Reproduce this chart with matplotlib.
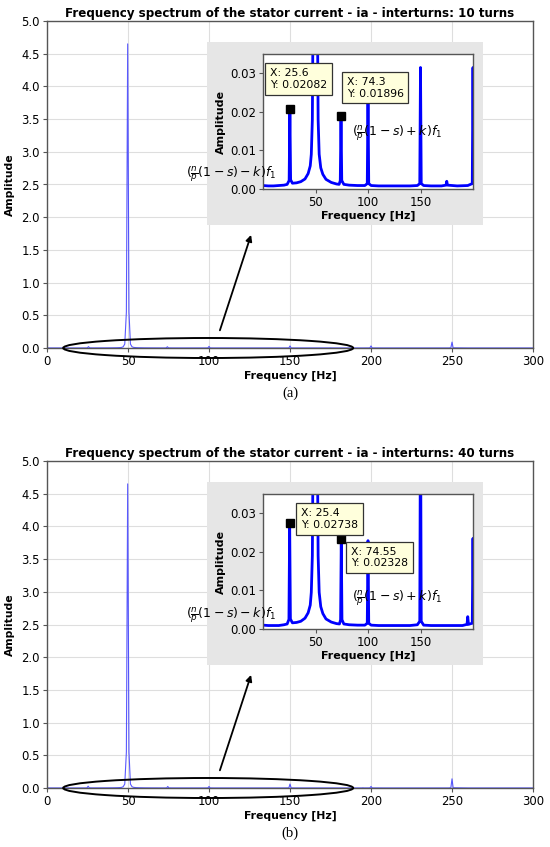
import matplotlib

matplotlib.use("Agg")
import matplotlib.pyplot as plt
from matplotlib.patches import Ellipse

W, H = 550, 847

# spectrum (a): interturns 10 turns
freq_a = [0, 5, 10, 15, 20, 23, 24.9, 25.6, 26.3, 28, 32, 36, 40, 43, 45, 46, 47, 48, 49, 49.8,
          50.6, 51.5, 52.5, 53.5, 55, 57, 60, 65, 70, 72.5, 73.6, 74.3, 75.0, 77, 82, 90, 97,
          99.3, 100, 100.7, 103, 110, 120, 130, 140, 147, 149.3, 150, 150.7, 153, 160, 170,
          174.3, 175, 175.7, 185, 195, 199.3, 200, 200.7, 210, 230, 248, 249.3, 250, 250.7,
          260, 280, 300]
amp_a = [0.0009, 0.0008, 0.0008, 0.0009, 0.0010, 0.0012, 0.0022, 0.02082, 0.0024, 0.0015,
         0.0016, 0.0019, 0.0026, 0.0040, 0.0060, 0.0090, 0.018, 0.06, 0.55, 4.65,
         0.55, 0.06, 0.018, 0.009, 0.0055, 0.0038, 0.0025, 0.0017, 0.0013, 0.0012, 0.0022, 0.01896,
         0.0022, 0.0012, 0.0010, 0.0009, 0.0009,
         0.0014, 0.024, 0.0014, 0.0009, 0.0008, 0.0008, 0.0008, 0.0008, 0.0009, 0.0014, 0.0315,
         0.0014, 0.0009, 0.0008, 0.0008,
         0.0010, 0.0020, 0.0010, 0.0008, 0.0009, 0.0014, 0.0315, 0.0014, 0.0008, 0.0008,
         0.0009, 0.003, 0.09, 0.003, 0.0008, 0.0007, 0.0007]

# spectrum (b): interturns 40 turns
freq_b = [0, 5, 10, 15, 20, 23, 24.7, 25.4, 26.1, 28, 32, 36, 40, 43, 45, 46, 47, 48, 49, 49.8,
          50.6, 51.5, 52.5, 53.5, 55, 57, 60, 65, 70, 72.8, 73.9, 74.55, 75.2, 77, 82, 90, 97,
          99.3, 100, 100.7, 103, 110, 120, 130, 140, 147, 149.3, 150, 150.7, 153, 160, 170,
          180, 190, 194.3, 195, 195.7, 199.3, 200, 200.7, 210, 230, 248, 249.3, 250, 250.7,
          260, 280, 300]
amp_b = [0.0010, 0.0009, 0.0009, 0.0009, 0.0011, 0.0013, 0.0025, 0.02738, 0.0026, 0.0016,
         0.0017, 0.0020, 0.0028, 0.0042, 0.0062, 0.0095, 0.019, 0.06, 0.55, 4.65,
         0.55, 0.06, 0.019, 0.0095, 0.0058, 0.0040, 0.0026, 0.0018, 0.0014, 0.0013, 0.0024, 0.02328,
         0.0024, 0.0013, 0.0011, 0.0010, 0.0010,
         0.0015, 0.0229, 0.0015, 0.0010, 0.0009, 0.0009, 0.0009, 0.0009, 0.0011, 0.002, 0.06,
         0.002, 0.0010, 0.0009, 0.0009,
         0.0009, 0.0009, 0.0012, 0.0032, 0.0012, 0.0015, 0.0235, 0.0015, 0.0009, 0.0009,
         0.0010, 0.004, 0.14, 0.004, 0.0009, 0.0008, 0.0008]

# data-tip markers
marks_a = [(25.6, 0.02082), (74.3, 0.01896)]
marks_b = [(25.4, 0.02738), (74.55, 0.02328)]

turns = [10, 40]
captions = ["(a)", "(b)"]
main_xticks = [0, 50, 100, 150, 200, 250, 300]
main_yticks = [0.0, 0.5, 1.0, 1.5, 2.0, 2.5, 3.0, 3.5, 4.0, 4.5, 5.0]
inset_xticks = [50, 100, 150]
inset_yticks = [0.00, 0.01, 0.02, 0.03]

# where the two data-tip boxes sit (inset axes fraction, top-left of text)
tip_pos = [[(0.033, 0.895), (0.398, 0.83)], [(0.18, 0.895), (0.418, 0.61)]]
# pixel rows of the two formula labels, per panel
minus_y = [174, 615]
plus_y = [133, 598]


def box(left, top, right, bottom):
    """pixel rectangle -> figure fraction [l, b, w, h]"""
    return [left / W, 1 - bottom / H, (right - left) / W, (bottom - top) / H]


fig = plt.figure(figsize=(W / 100, H / 100), dpi=100)
plt.rcParams["font.family"] = "DejaVu Sans"

panels = [(freq_a, amp_a, marks_a), (freq_b, amp_b, marks_b)]
for i, (freq, amp, marks) in enumerate(panels):
    dy = 440 * i

    ax = fig.add_axes(box(47, 21 + dy, 533, 348 + dy))
    ax.plot(freq, amp, color="#3030ff", lw=0.8, alpha=0.8)
    ax.set_xlim(0, 300); ax.set_ylim(0, 5)
    ax.set_xticks(main_xticks); ax.set_yticks(main_yticks)
    ax.yaxis.set_major_formatter(matplotlib.ticker.FormatStrFormatter("%.1f"))
    ax.grid(True, color="#dedede", lw=0.8)
    ax.set_axisbelow(True)
    for s in ax.spines.values():
        s.set_color("#555555"); s.set_linewidth(1.0)
    ax.tick_params(labelsize=8.4, length=3, color="#555555", pad=2)
    ax.set_title(f"Frequency spectrum of the stator current - ia - interturns: {turns[i]} turns",
                 fontsize=8.6, fontweight="bold", pad=3)
    ax.set_xlabel("Frequency [Hz]", fontsize=7.8, fontweight="bold", labelpad=2)
    ax.set_ylabel("Amplitude", fontsize=7.8, fontweight="bold", labelpad=5)
    ax.add_patch(Ellipse((99.5, 0), 179, 0.306, fill=False, edgecolor="black", lw=1.4,
                         clip_on=False, zorder=5))
    ax.annotate("", xy=(126.5, 1.77), xytext=(106.2, 0.23),
                arrowprops=dict(arrowstyle="-|>", color="black", lw=1.3, mutation_scale=9))

    fig.text(290 / W, 1 - (393 + dy) / H, captions[i], ha="center", va="center",
             fontsize=10.5, family="Liberation Serif")

    # grey backdrop of the zoom
    bg = fig.add_axes(box(207, 42 + dy, 483, 225 + dy), zorder=2)
    bg.set_facecolor("#e6e6e6")
    bg.set_xticks([]); bg.set_yticks([])
    for s in bg.spines.values():
        s.set_visible(False)

    ins = fig.add_axes(box(263, 54 + dy, 473, 189 + dy), zorder=3)
    ins.plot(freq, amp, color="#0000ff", lw=2.0)
    ins.set_xlim(0, 200); ins.set_ylim(0, 0.035)
    ins.set_xticks(inset_xticks); ins.set_yticks(inset_yticks)
    ins.yaxis.set_major_formatter(matplotlib.ticker.FormatStrFormatter("%.2f"))
    for s in ins.spines.values():
        s.set_color("#555555"); s.set_linewidth(1.0)
    ins.tick_params(labelsize=8.4, length=3, color="#555555", pad=2)
    ins.set_xlabel("Frequency [Hz]", fontsize=8, fontweight="bold", labelpad=1)
    ins.set_ylabel("Amplitude", fontsize=8, fontweight="bold", labelpad=3)

    for (mx, my), (tx, ty) in zip(marks, tip_pos[i]):
        ins.plot([mx], [my], marker="s", color="black", ms=6, zorder=4)
        ins.text(tx, ty, f"X: {mx:g}\nY: {my:g}", transform=ins.transAxes, ha="left", va="top",
                 fontsize=7.8, zorder=6, linespacing=1.2,
                 bbox=dict(boxstyle="square,pad=0.45", facecolor="#ffffdc", edgecolor="#333333", lw=0.9))

    fig.text(186 / W, 1 - minus_y[i] / H, r"$(\frac{n}{p}(1-s)-k)f_1$", ha="left", va="center",
             fontsize=9, zorder=10)
    fig.text(352 / W, 1 - plus_y[i] / H, r"$(\frac{n}{p}(1-s)+k)f_1$", ha="left", va="center",
             fontsize=9, zorder=10)

fig.savefig("out.png", dpi=100, facecolor="white")
